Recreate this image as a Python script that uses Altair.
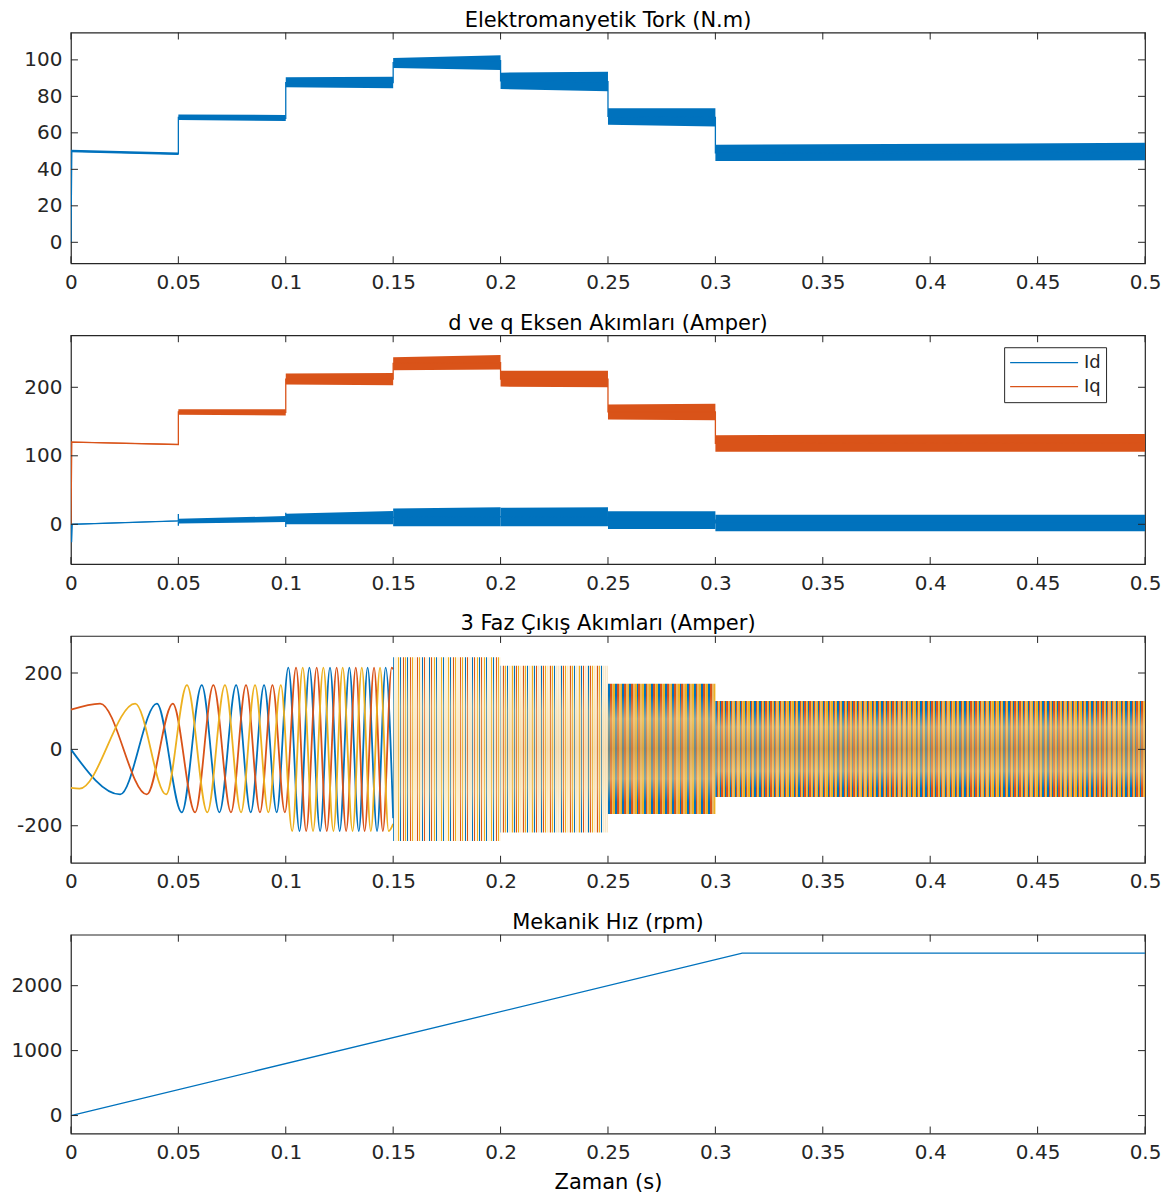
import altair as alt
import pandas as pd

BLUE = "#0072BD"
ORANGE = "#D95319"
YELLOW = "#EDB120"
AXC = "#262626"
FONT = "DejaVu Sans"
W = 1075
TICK = 7

# ---------------- data ----------------
x_ticks = [0, 0.05, 0.1, 0.15, 0.2, 0.25, 0.3, 0.35, 0.4, 0.45, 0.5]

seg_start = [0.00, 0.05, 0.10, 0.15, 0.20, 0.25, 0.30]
seg_end = [0.05, 0.10, 0.15, 0.20, 0.25, 0.30, 0.50]

# Elektromanyetik Tork: ripple band (min / max) per load step
torque_lo_start = [49.3, 67.0, 85.0, 95.5, 84.0, 64.5, 44.5]
torque_lo_end = [47.8, 66.5, 84.5, 94.5, 82.8, 63.5, 45.0]
torque_hi_start = [50.7, 70.0, 90.5, 101.0, 93.0, 73.5, 53.5]
torque_hi_end = [49.2, 69.8, 90.7, 102.5, 93.5, 73.5, 54.5]
torque_path_t = [0.0, 0.0004, 0.05, 0.05, 0.10, 0.10, 0.15, 0.15, 0.20, 0.20, 0.25, 0.25, 0.30, 0.30, 0.50]
torque_path_v = [0.0, 50.0, 48.5, 68.5, 68.0, 87.5, 87.5, 98.5, 99.5, 88.5, 88.0, 69.0, 68.5, 49.0, 49.5]

# d / q currents
iq_lo_start = [119.3, 160, 204, 225, 201, 153, 106]
iq_lo_end = [115.8, 159, 203, 226, 200, 152, 106]
iq_hi_start = [120.7, 168, 220, 244, 224, 175, 130]
iq_hi_end = [117.2, 168, 221, 247, 224, 176, 132]
iq_path_t = [0.0, 0.0004, 0.05, 0.05, 0.10, 0.10, 0.15, 0.15, 0.20, 0.20, 0.25, 0.25, 0.30, 0.30, 0.50]
iq_path_v = [0.0, 120.0, 116.5, 164, 163.5, 212, 212, 235, 236, 212, 212, 164, 164, 118, 119]

id_lo_start = [-0.7, 1.0, 0.0, -3, -3, -7, -10]
id_lo_end = [4.3, 3.5, 0.0, -3, -3, -7, -10]
id_hi_start = [0.7, 8.0, 15.5, 23, 24, 19, 14]
id_hi_end = [5.7, 12.0, 19.5, 25, 25, 19, 14]
id_path_t = [0.0, 0.0003, 0.0006, 0.05, 0.05, 0.05, 0.05, 0.10, 0.10, 0.10, 0.10, 0.15, 0.15, 0.20, 0.20, 0.25, 0.25, 0.30, 0.30, 0.50]
id_path_v = [0.0, -26, 0.0, 5.0, 15, -2, 5, 7.5, 17, -4, 8, 10, 10, 11, 11, 10, 6, 6, 2, 2]

# 3-phase currents: extremes (0 - 0.15 s)
pa_t = [0.0, 0.0229, 0.0400, 0.0516, 0.0609, 0.0691, 0.0769, 0.0837, 0.0899, 0.0958, 0.1012, 0.1064,
        0.1110, 0.1160, 0.1206, 0.1251, 0.1296, 0.1340, 0.1381, 0.1425, 0.1465, 0.1500]
pa_v = [0, -118, 120, -165, 168, -165, 168, -165, 168, -165, 214, -214,
        214, -214, 214, -214, 214, -214, 214, -214, 214, -180]
pb_t = [0.0, 0.0136, 0.0353, 0.0474, 0.0578, 0.0663, 0.0745, 0.0815, 0.0880, 0.0938, 0.0996, 0.1048,
        0.1095, 0.1144, 0.1191, 0.1237, 0.1281, 0.1326, 0.1367, 0.1411, 0.1452, 0.1493, 0.1500]
pb_v = [104, 120, -118, 120, -165, 168, -165, 168, -165, 168, -165, 214,
        -214, 214, -214, 214, -214, 214, -214, 214, -214, 214, 210]
pc_t = [0.0, 0.0040, 0.0299, 0.0443, 0.0540, 0.0635, 0.0717, 0.0792, 0.0857, 0.0919, 0.0977, 0.1030,
        0.1079, 0.1127, 0.1175, 0.1222, 0.1265, 0.1311, 0.1354, 0.1396, 0.1439, 0.1479, 0.1500]
pc_v = [-101, -103, 120, -118, 168, -165, 168, -165, 168, -165, 168, -214,
        214, -214, 214, -214, 214, -214, 214, -214, 214, -214, -195]

# dense part (0.15 - 0.5 s): envelope per step and visible stripe groups
ph_band_start = [0.15, 0.20, 0.25, 0.30]
ph_band_end = [0.20, 0.25, 0.30, 0.50]
ph_band_hi = [241, 219, 172, 127]
ph_band_lo = [-240, -218, -169, -125]
ph_band_groups = [15, 16, 15, 88]

# Mekanik Hiz
speed_t = [0.0, 0.3125, 0.5]
speed_v = [0, 2500, 2500]

# ---------------- helpers ----------------
xscale = alt.Scale(domain=[0, 0.5], nice=False, zero=False)


def X(title=None):
    return alt.X("t:Q", scale=xscale,
                 axis=alt.Axis(values=x_ticks, labelExpr="'' + datum.value", title=title))


def Y(field, ysc, yticks):
    return alt.Y(field + ":Q", scale=ysc,
                 axis=alt.Axis(values=yticks, labelExpr="'' + datum.value", title=None,
                               labelPadding=9, minExtent=62, maxExtent=62))


def band_frame(lo_s, lo_e, hi_s, hi_e):
    rows = []
    for k in range(len(seg_start)):
        rows.append({"seg": k, "t": seg_start[k], "lo": lo_s[k], "hi": hi_s[k]})
        rows.append({"seg": k, "t": seg_end[k], "lo": lo_e[k], "hi": hi_e[k]})
    return pd.DataFrame(rows)


def path_frame(ts, vs, name=None):
    df = pd.DataFrame({"t": ts, "v": vs, "i": list(range(len(ts)))})
    if name is not None:
        df["s"] = name
    return df


def frame_ticks(ysc, yticks, h, xt_title=None):
    xt = pd.DataFrame({"t": x_ticks})
    yt = pd.DataFrame({"v": yticks})
    bx = alt.Chart(xt).mark_rule(color=AXC, strokeWidth=1)
    by = alt.Chart(yt).mark_rule(color=AXC, strokeWidth=1)
    return [
        bx.encode(x=X(xt_title), y=alt.value(h), y2=alt.value(h - TICK)),
        bx.encode(x=X(xt_title), y=alt.value(0), y2=alt.value(TICK)),
        by.encode(y=Y("v", ysc, yticks), x=alt.value(0), x2=alt.value(TICK)),
        by.encode(y=Y("v", ysc, yticks), x=alt.value(W), x2=alt.value(W - TICK)),
    ]


def stripes(n, pattern):
    stops = []
    m = len(pattern)
    for i in range(n):
        for k, c in enumerate(pattern):
            a = (i + k / m) / n
            b = (i + (k + 1) / m) / n
            stops.append(alt.GradientStop(color=c, offset=round(a, 6)))
            stops.append(alt.GradientStop(color=c, offset=round(min(b, 1.0), 6)))
    return alt.LinearGradient(gradient="linear", stops=stops, x1=0, x2=1, y1=0, y2=0)


def wash(light, mid, a_light, a_mid):
    def rgba(h, a):
        h = h.lstrip("#")
        return "rgba(%d,%d,%d,%.2f)" % (int(h[0:2], 16), int(h[2:4], 16), int(h[4:6], 16), a)
    return alt.LinearGradient(
        gradient="linear", x1=0, x2=0, y1=0, y2=1,
        stops=[
            alt.GradientStop(color=rgba(light, 0.0), offset=0.0),
            alt.GradientStop(color=rgba(light, 0.0), offset=0.09),
            alt.GradientStop(color=rgba(light, a_light), offset=0.27),
            alt.GradientStop(color=rgba(mid, a_mid), offset=0.5),
            alt.GradientStop(color=rgba(light, a_light), offset=0.73),
            alt.GradientStop(color=rgba(light, 0.0), offset=0.91),
            alt.GradientStop(color=rgba(light, 0.0), offset=1.0),
        ])


def ttl(text):
    return alt.TitleParams(text, offset=1)


# ---------------- panel 1 : torque ----------------
H1 = 231
ys1 = alt.Scale(domain=[-11.5, 115], nice=False, zero=False)
yt1 = [0, 20, 40, 60, 80, 100]
p1 = alt.layer(
    alt.Chart(band_frame(torque_lo_start, torque_lo_end, torque_hi_start, torque_hi_end))
    .mark_area(color=BLUE, clip=True)
    .encode(x=X(), y=Y("lo", ys1, yt1), y2=alt.Y2("hi:Q"), detail="seg:N"),
    alt.Chart(path_frame(torque_path_t, torque_path_v))
    .mark_line(color=BLUE, strokeWidth=1.3, clip=True)
    .encode(x=X(), y=Y("v", ys1, yt1), order="i:Q"),
    *frame_ticks(ys1, yt1, H1),
).properties(width=W, height=H1, title=ttl("Elektromanyetik Tork (N.m)"))

# ---------------- panel 2 : Id / Iq ----------------
H2 = 229
ys2 = alt.Scale(domain=[-58, 276], nice=False, zero=False)
yt2 = [0, 100, 200]
dq_path = pd.concat([path_frame(id_path_t, id_path_v, "Id"), path_frame(iq_path_t, iq_path_v, "Iq")])
p2 = alt.layer(
    alt.Chart(band_frame(id_lo_start, id_lo_end, id_hi_start, id_hi_end))
    .mark_area(color=BLUE, clip=True)
    .encode(x=X(), y=Y("lo", ys2, yt2), y2=alt.Y2("hi:Q"), detail="seg:N"),
    alt.Chart(band_frame(iq_lo_start, iq_lo_end, iq_hi_start, iq_hi_end))
    .mark_area(color=ORANGE, clip=True)
    .encode(x=X(), y=Y("lo", ys2, yt2), y2=alt.Y2("hi:Q"), detail="seg:N"),
    alt.Chart(dq_path)
    .mark_line(strokeWidth=1.3, clip=True)
    .encode(
        x=X(), y=Y("v", ys2, yt2), order="i:Q",
        color=alt.Color("s:N", scale=alt.Scale(domain=["Id", "Iq"], range=[BLUE, ORANGE]),
                        legend=alt.Legend(title=None, orient="none", legendX=934, legendY=12,
                                          symbolType="stroke", symbolSize=4624, symbolStrokeWidth=1.3,
                                          clipHeight=21, rowPadding=3,
                                          labelFont=FONT, labelFontSize=18, labelColor=AXC,
                                          labelOffset=5, strokeColor=AXC, fillColor="white",
                                          padding=5, symbolOpacity=1)),
    ),
    *frame_ticks(ys2, yt2, H2),
).properties(width=W, height=H2, title=ttl("d ve q Eksen Akımları (Amper)"))

# ---------------- panel 3 : 3-phase currents ----------------
H3 = 227
ys3 = alt.Scale(domain=[-297, 297], nice=False, zero=False)
yt3 = [-200, 0, 200]
LG = "#FCF4E4"
patterns = [
    [BLUE, LG, LG, ORANGE, LG, LG, YELLOW, LG, LG],
    [BLUE, LG, "#F8E8CC", ORANGE, LG, "#F8E8CC", YELLOW, LG, "#F8E8CC"],
    [BLUE, ORANGE, "#E9B865", YELLOW],
    [BLUE, ORANGE, "#E9B865", YELLOW],
]
washes = [
    wash("#F7E3B0", "#EFC887", 0.40, 0.35),
    wash("#F5DDA5", "#E9BF78", 0.40, 0.40),
    wash("#F3D591", "#C99B5A", 0.55, 0.55),
    wash("#F3D591", "#C99B5A", 0.55, 0.55),
]
band_layers = []
for k in range(len(ph_band_start)):
    df = pd.DataFrame({"t": [ph_band_start[k], ph_band_end[k]],
                       "lo": [ph_band_lo[k], ph_band_lo[k]],
                       "hi": [ph_band_hi[k], ph_band_hi[k]]})
    base = alt.Chart(df)
    band_layers.append(
        base.mark_area(color=stripes(ph_band_groups[k], patterns[k]), clip=True)
        .encode(x=X(), y=Y("lo", ys3, yt3), y2=alt.Y2("hi:Q"))
    )
    band_layers.append(
        base.mark_area(color=washes[k], clip=True)
        .encode(x=X(), y=Y("lo", ys3, yt3), y2=alt.Y2("hi:Q"))
    )

p3 = alt.layer(
    alt.Chart(path_frame(pa_t, pa_v)).mark_line(color=BLUE, strokeWidth=1.8, interpolate="monotone", clip=True)
    .encode(x=X(), y=Y("v", ys3, yt3), order="i:Q"),
    alt.Chart(path_frame(pb_t, pb_v)).mark_line(color=ORANGE, strokeWidth=1.8, interpolate="monotone", clip=True)
    .encode(x=X(), y=Y("v", ys3, yt3), order="i:Q"),
    alt.Chart(path_frame(pc_t, pc_v)).mark_line(color=YELLOW, strokeWidth=1.8, interpolate="monotone", clip=True)
    .encode(x=X(), y=Y("v", ys3, yt3), order="i:Q"),
    *band_layers,
    *frame_ticks(ys3, yt3, H3),
).properties(width=W, height=H3, title=ttl("3 Faz Çıkış Akımları (Amper)"))

# ---------------- panel 4 : speed ----------------
H4 = 199
ys4 = alt.Scale(domain=[-277, 2785], nice=False, zero=False)
yt4 = [0, 1000, 2000]
p4 = alt.layer(
    alt.Chart(path_frame(speed_t, speed_v)).mark_line(color=BLUE, strokeWidth=1.3, clip=True)
    .encode(x=X("Zaman (s)"), y=Y("v", ys4, yt4), order="i:Q"),
    *frame_ticks(ys4, yt4, H4, "Zaman (s)"),
).properties(width=W, height=H4, title=ttl("Mekanik Hız (rpm)"))

chart = (
    alt.vconcat(p1, p2, p3, p4, spacing=18)
    .resolve_scale(color="independent")
    .resolve_legend(color="independent")
    .properties(padding={"left": 0, "top": 0, "right": 0, "bottom": 0})
    .configure_view(stroke=AXC, strokeWidth=1.2)
    .configure_axis(labelFont=FONT, labelFontSize=20, labelColor=AXC, domain=False, ticks=False,
                    grid=False, labelFlush=False, labelOverlap=False, labelBound=False,
                    titleFont=FONT, titleFontSize=21, titleFontWeight="normal", titleColor="#000",
                    titlePadding=9)
    .configure_axisX(labelPadding=9)
    .configure_title(font=FONT, fontSize=21, fontWeight="normal", color="#000", anchor="middle")
)

chart.save("out.html", embed_options={"renderer": "svg", "actions": False})
